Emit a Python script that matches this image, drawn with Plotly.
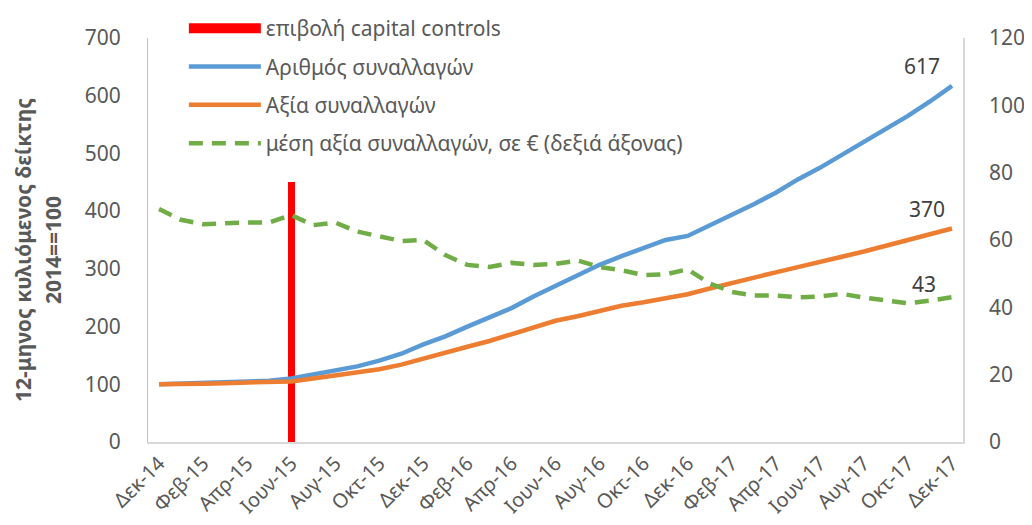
import plotly.graph_objects as go

months = ["Δεκ-14", "Ιαν-15", "Φεβ-15", "Μαρ-15", "Απρ-15", "Μαϊ-15", "Ιουν-15", "Ιουλ-15",
          "Αυγ-15", "Σεπ-15", "Οκτ-15", "Νοε-15", "Δεκ-15", "Ιαν-16", "Φεβ-16", "Μαρ-16",
          "Απρ-16", "Μαϊ-16", "Ιουν-16", "Ιουλ-16", "Αυγ-16", "Σεπ-16", "Οκτ-16", "Νοε-16",
          "Δεκ-16", "Ιαν-17", "Φεβ-17", "Μαρ-17", "Απρ-17", "Μαϊ-17", "Ιουν-17", "Ιουλ-17",
          "Αυγ-17", "Σεπ-17", "Οκτ-17", "Νοε-17", "Δεκ-17"]

arithmos = [100, 101, 102, 103, 104, 106, 110, 117, 124, 131, 141, 153, 169, 183, 200, 215,
            232, 252, 270, 287, 307, 322, 337, 350, 357, 375, 392, 412, 432, 455, 475, 497,
            520, 541, 565, 590, 617]

axia = [100, 100, 101, 102, 103, 104, 105, 110, 115, 120, 126, 134, 145, 155, 165, 175,
        187, 199, 210, 218, 228, 236, 242, 249, 256, 266, 276, 285, 294, 303, 311, 321,
        330, 340, 350, 360, 370]

mesi_axia = [69.2, 66.0, 64.7, 65.0, 65.2, 65.2, 67.4, 64.4, 65.2, 62.5, 61.0, 59.7, 60.0,
             55.5, 52.6, 52.0, 53.2, 52.6, 52.9, 53.9, 52.0, 51.0, 49.6, 49.8, 51.3, 47.1,
             44.6, 43.5, 43.5, 43.0, 43.2, 44.0, 42.9, 42.2, 41.2, 42.0, 43.0]

cc_month = ["Ιουν-15"]
cc_value = [450]

tick_labels = months[::2]

y_title_lines = ["12-μηνος κυλιόμενος δείκτης", "2014==100"]

grey = "#595959"
font_family = "Noto Sans, Open Sans, DejaVu Sans, sans-serif"

fig = go.Figure()

# capital controls marker (bar) + legend entry drawn as a wide red swatch
fig.add_trace(go.Bar(x=cc_month, y=cc_value, width=0.32, name="επιβολή capital controls",
                     marker=dict(color="#FF0000", line=dict(width=0)), showlegend=False,
                     legendgroup="a"))
fig.add_trace(go.Scatter(x=[None], y=[None], mode="lines", name="επιβολή capital controls",
                         line=dict(color="#FF0000", width=13), legendgroup="a"))
fig.add_trace(go.Scatter(x=months, y=arithmos, mode="lines", name="Αριθμός συναλλαγών",
                         line=dict(color="#5B9BD5", width=4.5), legendgroup="b"))
fig.add_trace(go.Scatter(x=months, y=axia, mode="lines", name="Αξία συναλλαγών",
                         line=dict(color="#ED7D31", width=4.5), legendgroup="c"))
fig.add_trace(go.Scatter(x=months, y=mesi_axia, mode="lines", yaxis="y2",
                         name="μέση αξία συναλλαγών, σε € (δεξιά άξονας)",
                         line=dict(color="#70AD47", width=4.5, dash="14px,9px"), legendgroup="d"))

lab_font = dict(size=21, color="#404040", family=font_family)
fig.add_annotation(x=months[-1], y=arithmos[-1], text=str(arithmos[-1]), showarrow=False,
                   xshift=-30, yshift=20, font=lab_font)
fig.add_annotation(x=months[-1], y=axia[-1], text=str(axia[-1]), showarrow=False,
                   xshift=-25, yshift=19, font=lab_font)
fig.add_annotation(x=months[-1], y=mesi_axia[-1], yref="y2", text=str(round(mesi_axia[-1])),
                   showarrow=False, xshift=-28, yshift=13, font=lab_font)

# left axis title (two bold rotated lines)
title_font = dict(size=21, color=grey, family=font_family)
for txt, xs in zip(y_title_lines, [-125, -95]):
    fig.add_annotation(xref="paper", yref="paper", x=0, y=0.5, xshift=xs, yshift=-10,
                       text="<b>" + txt + "</b>", textangle=-90, showarrow=False,
                       xanchor="center", yanchor="middle", font=title_font)

fig.update_layout(
    width=1032, height=525,
    margin=dict(l=140, r=77, t=30, b=91, autoexpand=False),
    paper_bgcolor="white", plot_bgcolor="white",
    font=dict(family=font_family, color=grey, size=21),
    showlegend=True,
    legend=dict(x=0.044, y=1.074, xanchor="left", yanchor="top", bgcolor="rgba(0,0,0,0)",
                font=dict(size=21, color=grey), traceorder="grouped", tracegroupgap=8,
                itemwidth=72),
    xaxis=dict(type="category", categoryorder="array", categoryarray=months,
               range=[-0.5, 36.5], tickvals=tick_labels, ticktext=tick_labels,
               tickangle=-45, showgrid=False, showline=True, linecolor="#D9D9D9", linewidth=1.5,
               ticks="", tickfont=dict(size=20, color=grey)),
    yaxis=dict(range=[0, 700], dtick=100, showgrid=False, showline=True, linecolor="#BFBFBF",
               linewidth=1.2, ticks="", zeroline=False, tickfont=dict(size=21, color=grey),
               ticklabelstandoff=22),
    yaxis2=dict(range=[0, 120], dtick=20, overlaying="y", side="right", showgrid=False,
                showline=True, linecolor="#D9D9D9", linewidth=1.5, ticks="", zeroline=False,
                tickfont=dict(size=21, color=grey), ticklabelstandoff=20),
    bargap=0,
)

fig.write_html("out.html")
